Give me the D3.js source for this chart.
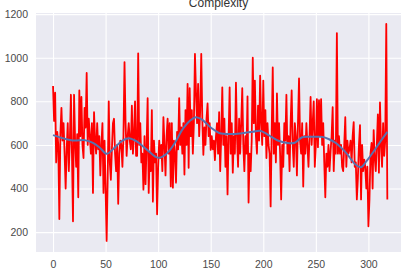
<!DOCTYPE html>
<html>
<head>
  <meta charset='utf-8'>
  <title>Complexity</title>
  <script src="https://cdnjs.cloudflare.com/ajax/libs/d3/7.8.5/d3.min.js"></script>
  <style>
    body { margin: 0; background: #fff; }
    text { font-family: "Liberation Sans", Arial, sans-serif; }
  </style>
</head>
<body>
  <svg width="403" height="276" id="mySVG"></svg>
  <script>
    // red series: one value per sample (0..318)
    const complexity = [
      870, 710, 840, 520, 660, 600, 260, 650, 770, 620,
      700, 560, 400, 580, 700, 480, 620, 830, 560, 250,
      830, 620, 500, 650, 360, 850, 640, 820, 600, 540,
      770, 680, 930, 600, 720, 640, 560, 700, 380, 750,
      620, 560, 700, 580, 640, 460, 600, 700, 380, 620,
      400, 160, 450, 800, 520, 440, 580, 700, 720, 560,
      480, 600, 330, 560, 620, 600, 500, 640, 980, 700,
      550, 640, 700, 620, 580, 780, 560, 640, 800, 550,
      550, 1020, 600, 700, 520, 560, 395, 640, 420, 600,
      814, 380, 560, 480, 760, 340, 620, 520, 560, 282,
      500, 620, 540, 600, 480, 727, 600, 460, 640, 720,
      560, 700, 410, 700, 404, 620, 560, 427, 660, 580,
      814, 600, 680, 560, 700, 464, 760, 600, 880, 495,
      860, 640, 760, 560, 700, 1018, 840, 700, 880, 640,
      760, 1018, 720, 555, 680, 600, 720, 790, 640, 700,
      577, 640, 580, 620, 530, 640, 700, 560, 750, 480,
      640, 864, 600, 720, 500, 640, 373, 640, 864, 560,
      700, 473, 640, 560, 886, 640, 500, 720, 560, 700,
      860, 600, 480, 640, 560, 823, 336, 560, 480, 620,
      1000, 700, 895, 640, 560, 780, 620, 918, 700, 600,
      895, 640, 760, 540, 700, 600, 560, 318, 660, 955,
      560, 700, 520, 836, 600, 700, 560, 350, 600, 500,
      700, 620, 830, 560, 640, 480, 700, 850, 600, 500,
      700, 640, 460, 700, 905, 620, 560, 700, 409, 640,
      560, 700, 600, 500, 640, 820, 600, 700, 800, 500,
      600, 810, 590, 805, 640, 810, 600, 700, 520, 360,
      560, 500, 600, 480, 570, 640, 773, 480, 620, 560,
      1113, 560, 640, 560, 600, 500, 480, 600, 727, 500,
      620, 560, 580, 620, 520, 640, 705, 500, 520, 350,
      450, 600, 691, 350, 600, 480, 532, 500, 400, 500,
      227, 350, 560, 609, 400, 668, 540, 480, 600, 740,
      473, 795, 600, 500, 700, 550, 620, 1155, 350
    ];

    // blue smoothed trend, read at these sample positions
    const trendIdx = [0, 10, 20, 30, 38, 45, 51, 58, 66, 73, 80, 90, 100, 108, 116, 123, 130, 136, 142,
      150, 158, 170, 180, 190, 197, 205, 215, 225, 230, 237, 246, 256, 263, 269, 278, 288, 293, 298,
      305, 312, 318];
    const trendVal = [645, 630, 620, 622, 609, 585, 559, 585, 620, 630, 615, 575, 541, 560, 610, 670, 710, 727, 715,
      680, 655, 650, 654, 660, 665, 645, 618, 608, 610, 635, 637, 637, 625, 609, 568, 509, 498, 525,
      570, 620, 660];

    const xTicks = [0, 50, 100, 150, 200, 250, 300];
    const yTicks = [200, 400, 600, 800, 1000, 1200];

    const svg = d3.select('#mySVG');
    const m = { left: 36, right: 401, top: 13, bottom: 252 };

    const x = d3.scaleLinear().domain([-16.2, 331]).range([m.left, m.right]);
    const y = d3.scaleLinear().domain([109, 1205]).range([m.bottom, m.top]);

    svg.append('rect')
      .attr('x', m.left).attr('y', m.top)
      .attr('width', m.right - m.left).attr('height', m.bottom - m.top)
      .attr('fill', '#EAEAF2');

    // grid
    svg.append('g')
      .attr('transform', `translate(0,${m.bottom})`)
      .call(d3.axisBottom(x).tickValues(xTicks).tickSize(-(m.bottom - m.top)).tickFormat(''))
      .call(g => g.select('.domain').remove())
      .call(g => g.selectAll('line').attr('stroke', '#fff').attr('stroke-width', 1.1));
    svg.append('g')
      .attr('transform', `translate(${m.left},0)`)
      .call(d3.axisLeft(y).tickValues(yTicks).tickSize(-(m.right - m.left)).tickFormat(''))
      .call(g => g.select('.domain').remove())
      .call(g => g.selectAll('line').attr('stroke', '#fff').attr('stroke-width', 1.1));

    // tick labels
    svg.append('g')
      .attr('transform', `translate(0,${m.bottom})`)
      .call(d3.axisBottom(x).tickValues(xTicks).tickSize(0).tickPadding(9).tickFormat(d3.format('d')))
      .call(g => g.select('.domain').remove())
      .call(g => g.selectAll('text').attr('fill', '#4a4a4a').style('font-size', '10.5px'));
    svg.append('g')
      .attr('transform', `translate(${m.left},0)`)
      .call(d3.axisLeft(y).tickValues(yTicks).tickSize(0).tickPadding(8).tickFormat(d3.format('d')))
      .call(g => g.select('.domain').remove())
      .call(g => g.selectAll('text').attr('fill', '#4a4a4a').style('font-size', '10.5px'));

    const redLine = d3.line()
      .x((d, i) => x(i))
      .y(d => y(d));

    svg.append('path')
      .datum(complexity)
      .attr('d', redLine)
      .attr('fill', 'none')
      .attr('stroke', '#ff0000')
      .attr('stroke-width', 1.8)
      .attr('stroke-linejoin', 'round');

    const trend = trendIdx.map((d, i) => [d, trendVal[i]]);
    const blueLine = d3.line()
      .x(d => x(d[0]))
      .y(d => y(d[1]))
      .curve(d3.curveCatmullRom);

    svg.append('path')
      .datum(trend)
      .attr('d', blueLine)
      .attr('fill', 'none')
      .attr('stroke', '#5872AE')
      .attr('stroke-width', 2);

    svg.append('text')
      .attr('x', (m.left + m.right) / 2)
      .attr('y', 7)
      .attr('text-anchor', 'middle')
      .attr('fill', '#333')
      .style('font-size', '12px')
      .text('Complexity');
  </script>
</body>
</html>
